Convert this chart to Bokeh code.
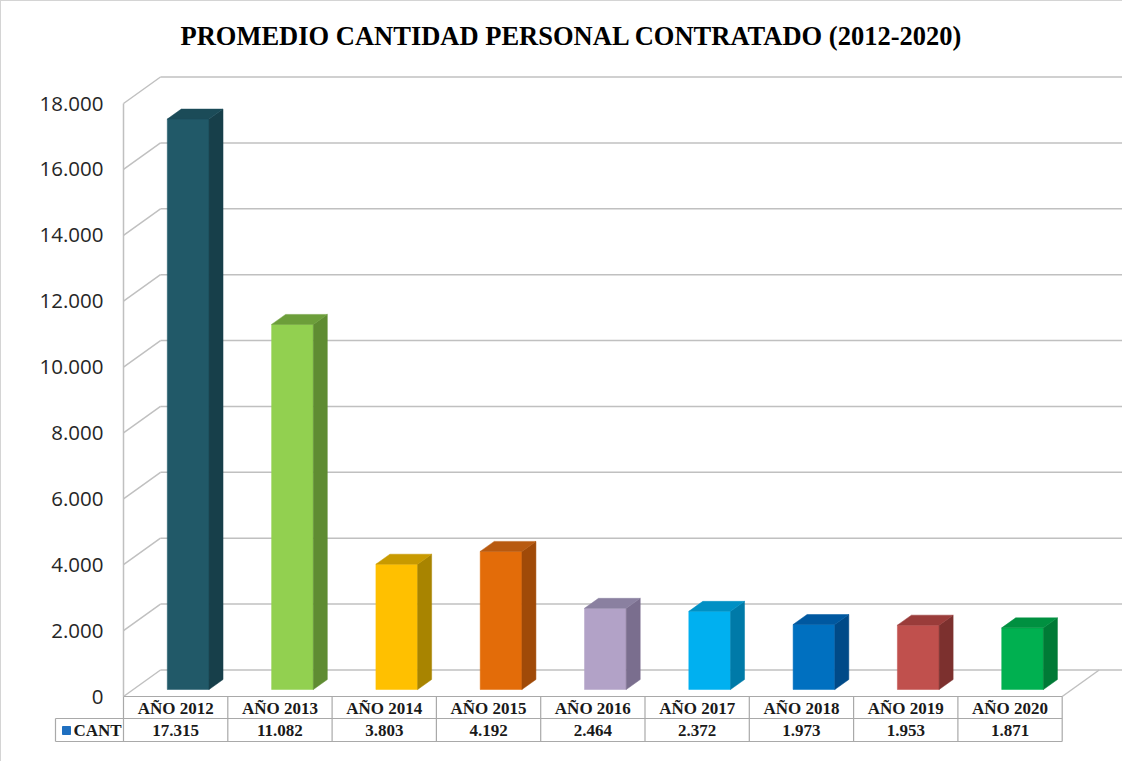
from bokeh.plotting import figure
from bokeh.models import LinearAxis, FixedTicker, Range1d, ColumnDataSource
from bokeh.core.properties import value
from bokeh.embed import file_html
from bokeh.resources import INLINE

# ---------------- data ----------------
title_text = "PROMEDIO CANTIDAD PERSONAL CONTRATADO (2012-2020)"
series_name = "CANT"
years = ["AÑO 2012", "AÑO 2013", "AÑO 2014", "AÑO 2015", "AÑO 2016",
         "AÑO 2017", "AÑO 2018", "AÑO 2019", "AÑO 2020"]
cant = [17315, 11082, 3803, 4192, 2464, 2372, 1973, 1953, 1871]
front_colors = ["#215968", "#92d050", "#ffc000", "#e36c09", "#b2a2c7",
                "#00b0f0", "#0070c0", "#c0504d", "#00b050"]
side_colors = ["#173f4a", "#5f8c32", "#a88400", "#a04a08", "#7a6e8e",
               "#007aa8", "#004a88", "#7c302e", "#007a36"]
top_colors = ["#1b4b58", "#6c9e3a", "#c89a00", "#b85a10", "#8a80a0",
              "#0090c4", "#0058a0", "#9a3c3a", "#009040"]
y_ticks = [0, 2000, 4000, 6000, 8000, 10000, 12000, 14000, 16000, 18000]


def fmt(v):
    return f"{v:,}".replace(",", ".")


y_tick_labels = {t: fmt(t) for t in y_ticks}
value_labels = [fmt(v) for v in cant]

# ---------------- geometry (px -> data) ----------------
W = 104.3                 # px per category unit
K = 593.0 / 18000.0       # px per value unit
PX0 = 131.0               # page x of x = 0
PY0 = 704.0               # page y of value 0
FIG_W, FIG_H = 1122, 761
LEFT, TOP = 9, 9
MIN_TOP = 60

x_start = (LEFT - PX0) / W
x_end = (LEFT + FIG_W - PX0) / W
y_start = -(LEFT + FIG_H - PY0) / K
y_end = (PY0 - (TOP + MIN_TOP)) / K

DXW, DYW = 37 / W, 26.5 / K     # wall depth
DXB, DYB = 14 / W, 10 / K       # bar depth
BASE = 7 / K                    # bar base lift
BX0, BW = 0.42, 0.40            # bar face offset / width in a column

n = len(cant)

p = figure(width=FIG_W, height=FIG_H, output_backend="svg", toolbar_location=None,
           x_range=Range1d(x_start, x_end), y_range=Range1d(y_start, y_end),
           x_axis_location=None, y_axis_location=None,
           min_border_left=0, min_border_right=0, min_border_bottom=0,
           min_border_top=MIN_TOP, outline_line_color=None,
           title=title_text,
           styles={"border-top": "1px solid #d4d4d4", "border-left": "1px solid #d4d4d4"})
p.grid.visible = False
p.title.text_font = "Liberation Serif"
p.title.text_font_style = "bold"
p.title.text_font_size = "26.5px"
p.title.text_color = "#000000"
p.title.align = "left"
p.title.offset = 179
p.title.standoff = 22

GRID = "#c0c0c0"

# walls: side-wall diagonals + back-wall horizontals
gx0, gy0, gx1, gy1 = [], [], [], []
for t in y_ticks:
    gx0 += [0, DXW]
    gy0 += [t, t + DYW]
    gx1 += [DXW, x_end]
    gy1 += [t + DYW, t + DYW]
# floor right diagonal
gx0.append(n); gy0.append(0); gx1.append(n + DXW); gy1.append(DYW)
p.segment(gx0, gy0, gx1, gy1, line_color=GRID, line_width=1.5)

# y axis at the front-left edge
yaxis = LinearAxis(fixed_location=0, ticker=FixedTicker(ticks=y_ticks),
                   bounds=(0, y_ticks[-1]), major_label_overrides=y_tick_labels,
                   axis_line_color=GRID, axis_line_width=1.5,
                   major_tick_in=0, major_tick_out=0, minor_tick_in=0, minor_tick_out=0,
                   major_label_standoff=20,
                   major_label_text_font="Open Sans",
                   major_label_text_font_size="20.5px",
                   major_label_text_color="#262626")
p.add_layout(yaxis, "left")

# bars (3D prisms)
fx, fy, sx, sy, tx, ty = [], [], [], [], [], []
for i, v in enumerate(cant):
    x0 = i + BX0
    x1 = x0 + BW
    b = BASE
    fx.append([x0, x1, x1, x0]); fy.append([b, b, b + v, b + v])
    sx.append([x1, x1 + DXB, x1 + DXB, x1]); sy.append([b, b + DYB, b + DYB + v, b + v])
    tx.append([x0, x1, x1 + DXB, x0 + DXB]); ty.append([b + v, b + v, b + v + DYB, b + v + DYB])
p.patches(fx, fy, fill_color=front_colors, line_color=front_colors, line_width=0.5)
p.patches(sx, sy, fill_color=side_colors, line_color=side_colors, line_width=0.5)
p.patches(tx, ty, fill_color=top_colors, line_color=top_colors, line_width=0.5)

# data table below the floor
R1 = -(726 - PY0) / K
R2 = -(749 - PY0) / K
YH = -(716 - PY0) / K
YV = -(738 - PY0) / K
LEG_X0 = (63 - PX0) / W
TABLE = "#a9a9a9"
tx0 = [0, LEG_X0, LEG_X0, LEG_X0] + list(range(0, n + 1))
ty0 = [0, R1, R2, R1] + [0] * (n + 1)
tx1 = [n, n, n, LEG_X0] + list(range(0, n + 1))
ty1 = [0, R1, R2, R2] + [R2] * (n + 1)
p.segment(tx0, ty0, tx1, ty1, line_color=TABLE, line_width=1.2)

centers = [i + 0.5 for i in range(n)]
src = ColumnDataSource(dict(x=centers, yh=[YH] * n, yv=[YV] * n, yr=years, val=value_labels))
p.text(x="x", y="yh", text="yr", source=src, text_align="center", text_baseline="middle",
       text_font=value("Liberation Serif"), text_font_style="bold",
       text_font_size="17px", text_color="#1a1a1a")
p.text(x="x", y="yv", text="val", source=src, text_align="center", text_baseline="middle",
       text_font=value("Liberation Serif"), text_font_style="bold",
       text_font_size="17px", text_color="#1a1a1a")

# legend key in the table
p.scatter([(74 - PX0) / W], [YV], marker="square", size=8, fill_color="#1f6fc0",
          line_color="#1f6fc0")
p.text([(81 - PX0) / W], [YV], text=[series_name], text_align="left", text_baseline="middle",
       text_font=value("Liberation Serif"), text_font_style="bold",
       text_font_size="17px", text_color="#1a1a1a")

open("out.html", "w").write(file_html(p, INLINE))
